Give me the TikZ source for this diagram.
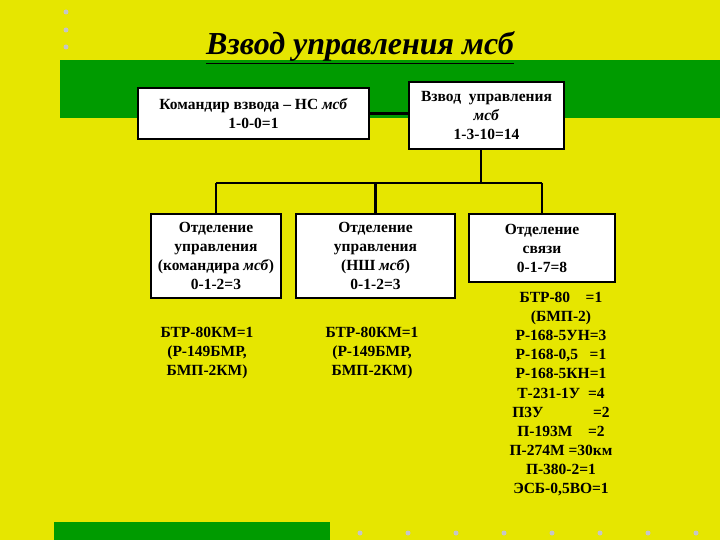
\documentclass[tikz,border=0pt]{standalone}
\usepackage{fontspec}
\setmainfont{Liberation Serif}
\begin{document}
\begin{tikzpicture}[x=1pt,y=-1pt,
  box/.style={draw=black, line width=1.8pt, fill=white, inner sep=0pt, align=center,
    font=\fontsize{15.5}{19}\selectfont\bfseries},
  lst/.style={align=center, inner sep=0pt, font=\fontsize{15.5}{19.1}\selectfont\bfseries},
  conn/.style={draw=black, line width=2.6pt},
  dot/.style={fill=gray!45, draw=none}]
\definecolor{bgyellow}{RGB}{230,230,0}
\definecolor{bggreen}{RGB}{0,155,0}
\useasboundingbox (0,0) rectangle (720,540);
\fill[bgyellow] (0,0) rectangle (720,540);
\fill[bggreen] (60,60) rectangle (720,118);
\fill[bggreen] (54,522) rectangle (330,540);
\foreach \yy in {12,30,47} \fill[dot] (66,\yy) circle (2.5);
\foreach \xx in {360,408,456,504,552,600,648,696} \fill[dot] (\xx,533) circle (2.5);
\node[inner sep=0pt, font=\fontsize{32}{34}\selectfont\bfseries\itshape] (title) at (360,48) {\underline{Взвод управления мсб}};
\node[box, minimum width=231, minimum height=51] (cmd) at (253.5,113.5) {Командир взвода – НС \textit{мсб}\\1-0-0=1};
\node[box, minimum width=155, minimum height=67] (wz) at (486.5,115.5) {Взвод\ \ управления\\\textit{мсб}\\1-3-10=14};
\node[box, minimum width=130, minimum height=84] (b1) at (216,256) {Отделение\\управления\\(командира \textit{мсб})\\0-1-2=3};
\node[box, minimum width=159, minimum height=84] (b2) at (375.5,256) {Отделение\\управления\\(НШ \textit{мсб})\\0-1-2=3};
\node[box, minimum width=146, minimum height=68] (b3) at (542,248) {Отделение\\связи\\0-1-7=8};
\coordinate (j) at (481,183);
\draw[conn] (cmd.east) -- (cmd.east -| wz.west);
\draw[conn] (j |- wz.south) -- (j);
\draw[conn] (b1.north |- j) -- (b3.north |- j);
\draw[conn] (b1.north |- j) -- (b1.north);
\draw[conn] (b2.north |- j) -- (b2.north);
\draw[conn] (b3.north |- j) -- (b3.north);
\node[lst, anchor=north] (l1) at (207,327) {БТР-80КМ=1\\(Р-149БМР,\\БМП-2КМ)};
\node[lst, anchor=north] (l2) at (372,327) {БТР-80КМ=1\\(Р-149БМР,\\БМП-2КМ)};
\node[lst, anchor=north] (l3) at (561,292) {БТР-80\ \ \ \ =1\\(БМП-2)\\Р-168-5УН=3\\Р-168-0,5\ \ \ =1\\Р-168-5КН=1\\Т-231-1У\ \ =4\\П3У\hspace{3.2em}=2\\П-193М\ \ \ \ =2\\П-274М =30км\\П-380-2=1\\ЭСБ-0,5ВО=1};
\end{tikzpicture}
\end{document}
